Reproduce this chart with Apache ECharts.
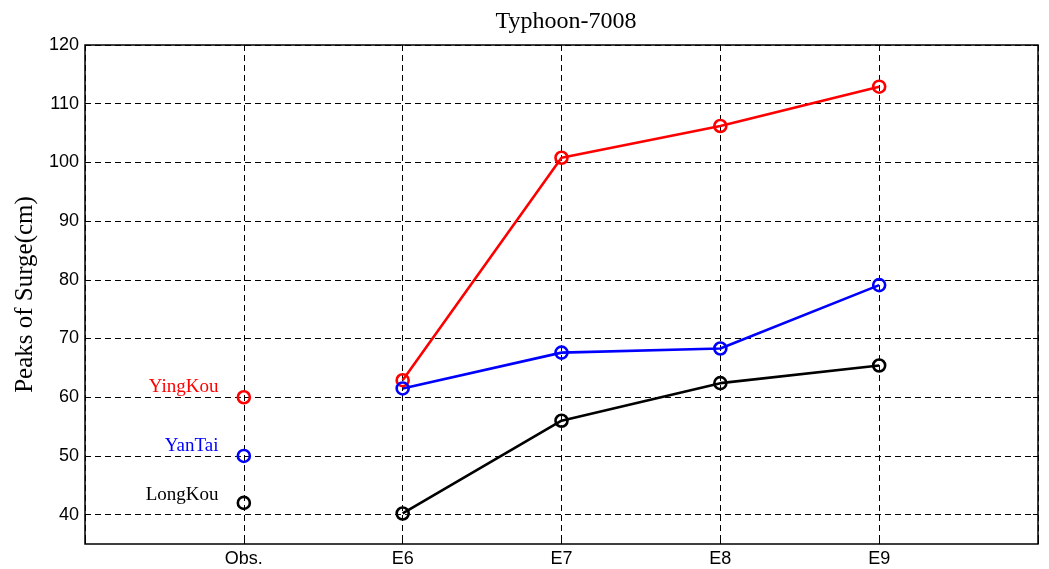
<!DOCTYPE html>
<html><head><meta charset="utf-8">
<script src="https://cdn.jsdelivr.net/npm/echarts@6/dist/echarts.min.js"></script>
<style>html,body{margin:0;padding:0;background:#fff}#c{width:1049px;height:569px}</style>
</head><body><div id="c"></div>
<script>
const categories = ['', 'Obs.', 'E6', 'E7', 'E8', 'E9', ''];
const yTicks = [40, 50, 60, 70, 80, 90, 100, 110, 120];
const stations = ['YingKou', 'YanTai', 'LongKou'];
const colors = ['#ff0000', '#0000ff', '#000000'];
const obsValues = [60, 50, 42];
const yingkou = [null, null, 62.9, 100.8, 106.2, 112.9, null];
const yantai = [null, null, 61.5, 67.6, 68.3, 79.1, null];
const longkou = [null, null, 40.2, 56.0, 62.4, 65.4, null];
const labelOffsets = [-10, -10, -8];

const chart = echarts.init(document.getElementById('c'));
const markerStyle = c => ({color: 'rgba(255,255,255,0)', borderColor: c, borderWidth: 2.6});
const lineSeries = [yingkou, yantai, longkou].map((d, i) => ({
  type: 'line', name: stations[i], data: d, symbol: 'circle', symbolSize: 12,
  lineStyle: {color: colors[i], width: 2.6}, itemStyle: markerStyle(colors[i]),
  connectNulls: false, z: 3
}));
const obsSeries = obsValues.map((v, i) => ({
  type: 'line', name: stations[i] + ' obs', data: categories.map((c, j) => j === 1 ? v : null),
  symbol: 'circle', symbolSize: 12, showAllSymbol: true,
  lineStyle: {width: 0}, itemStyle: markerStyle(colors[i]),
  label: {show: true, position: 'left', distance: 18, offset: [0, labelOffsets[i]],
    formatter: stations[i], color: colors[i], fontFamily: 'Liberation Serif', fontSize: 19},
  z: 3
}));
const dash = {color: '#000', type: [6, 4], width: 1};
chart.setOption({
  animation: false,
  title: {text: 'Typhoon-7008', left: 561, top: 5, textAlign: 'center',
    textStyle: {fontFamily: 'Liberation Serif', fontSize: 24, fontWeight: 'normal', color: '#000'}},
  grid: {left: 85, right: 11, top: 45, bottom: 25, show: true, borderColor: '#000', borderWidth: 1.5, containLabel: false},
  xAxis: [{type: 'category', data: categories, boundaryGap: false,
    axisLine: {show: false},
    axisTick: {show: true, inside: true, length: 5, lineStyle: {color: '#000'}},
    axisLabel: {color: '#000', fontFamily: 'Liberation Sans', fontSize: 18, margin: 6, interval: 0},
    splitLine: {show: true, lineStyle: dash}},
    {type: 'category', data: categories, boundaryGap: false, position: 'top',
    axisLine: {show: false}, axisLabel: {show: false},
    axisTick: {show: true, inside: true, length: 5, lineStyle: {color: '#000'}},
    splitLine: {show: false}}],
  yAxis: [{type: 'value', min: 35, max: 120,
    name: 'Peaks of Surge(cm)', nameLocation: 'middle', nameGap: 45,
    nameTextStyle: {fontFamily: 'Liberation Serif', fontSize: 25, color: '#000'},
    axisLine: {show: false},
    axisTick: {show: true, inside: true, length: 5, customValues: yTicks, lineStyle: {color: '#000'}},
    axisLabel: {customValues: yTicks, color: '#000', fontFamily: 'Liberation Sans', fontSize: 18, margin: 6},
    splitLine: {show: true, lineStyle: dash}},
    {type: 'value', min: 35, max: 120, position: 'right',
    axisLine: {show: false}, axisLabel: {show: false},
    axisTick: {show: true, inside: true, length: 5, customValues: yTicks, lineStyle: {color: '#000'}},
    splitLine: {show: false}}],
  series: lineSeries.concat(obsSeries)
});
</script></body></html>
